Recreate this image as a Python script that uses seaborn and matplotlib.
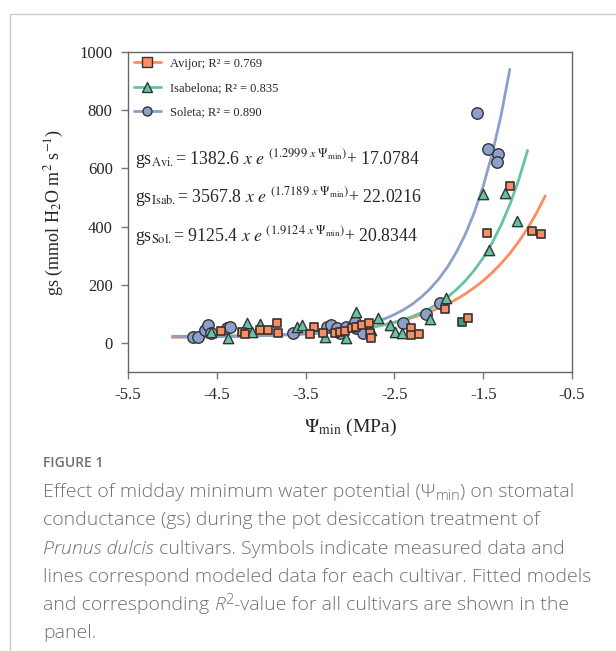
import numpy as np
import seaborn as sns
import matplotlib.pyplot as plt
from matplotlib.lines import Line2D
from matplotlib.patches import Rectangle

# measured points (Psi_min in MPa, gs in mmol m-2 s-1)
avijor_x = [-4.45, -4.22, -4.18, -4.01, -3.92, -3.82, -3.81, -3.41, -3.45, -3.30,
            -3.17, -3.11, -3.06, -2.98, -2.93, -2.87, -2.79, -2.78, -2.76, -2.31,
            -2.31, -2.22, -1.93, -1.67, -1.46, -1.20, -0.95, -0.85]
avijor_y = [42, 39, 30, 45, 45, 68, 35, 56, 31, 33,
            33, 39, 42, 50, 56, 62, 70, 33, 16, 50,
            27, 30, 116, 85, 378, 541, 385, 373]

isab_x = [-4.56, -4.37, -4.16, -4.01, -4.10, -3.60, -3.54, -3.28, -3.04, -2.93,
          -2.68, -2.76, -2.55, -2.49, -2.42, -2.10, -1.92, -1.44, -1.50, -1.26, -1.12]
isab_y = [39, 16, 68, 66, 39, 56, 62, 22, 16, 107,
          85, 45, 62, 39, 33, 82, 154, 321, 513, 516, 420]

# one green square in the original figure
odd_x = [-1.74]
odd_y = [71]

sol_x = [-4.77, -4.71, -4.63, -4.60, -4.56, -4.39, -4.35, -3.64, -3.26, -3.21,
         -3.15, -3.11, -3.04, -2.94, -2.93, -2.85, -2.40, -2.14, -1.99, -1.57,
         -1.45, -1.33, -1.34]
sol_y = [22, 22, 45, 62, 33, 50, 56, 33, 56, 62,
         50, 33, 56, 73, 50, 33, 68, 98, 136, 790,
         665, 651, 623]

# fitted models shown in the panel: gs = a * exp(b * Psi) + c
fit_a = [1382.6, 3567.8, 9125.4]
fit_b = [1.2999, 1.7189, 1.9124]
fit_c = [17.0784, 22.0216, 20.8344]
fit_end = [-0.8, -1.0, -1.2]
r2 = [0.769, 0.835, 0.890]
names = ["Avijor", "Isabelona", "Soleta"]

sns.set_style("white")
plt.rcParams['font.family'] = ['Liberation Serif', 'DejaVu Serif']
plt.rcParams['mathtext.fontset'] = 'stix'

pal = sns.color_palette("Set2", 3)
cols = [pal[1], pal[0], pal[2]]  # orange, green, blue
markers = ["s", "^", "o"]
sizes = [38, 55, 68]
edge = "#333333"

fig = plt.figure(figsize=(6.16, 6.51), dpi=100)
ax = fig.add_axes([128 / 616, 1 - 372 / 651, 444 / 616, 320 / 651])

# fitted curves
for i in range(3):
    xs = np.arange(-5.0, fit_end[i] + 0.001, 0.1)
    ys = fit_a[i] * np.exp(fit_b[i] * xs) + fit_c[i]
    sns.lineplot(x=xs, y=ys, color=cols[i], lw=2, ax=ax, zorder=2)

# measured points
sns.scatterplot(x=sol_x, y=sol_y, marker="o", s=sizes[2], color=cols[2],
                edgecolor=edge, linewidth=1, ax=ax, zorder=3)
sns.scatterplot(x=isab_x, y=isab_y, marker="^", s=sizes[1], color=cols[1],
                edgecolor=edge, linewidth=1, ax=ax, zorder=4)
sns.scatterplot(x=odd_x, y=odd_y, marker="s", s=sizes[0], color="#4a9a80",
                edgecolor=edge, linewidth=1.2, ax=ax, zorder=4)
sns.scatterplot(x=avijor_x, y=avijor_y, marker="s", s=sizes[0], color=cols[0],
                edgecolor=edge, linewidth=1.2, ax=ax, zorder=5)

ax.set_xlim(-5.5, -0.5)
ax.set_ylim(-100, 1000)
ax.set_xticks([-5.5, -4.5, -3.5, -2.5, -1.5, -0.5])
ax.set_xticklabels(["-5.5", "-4.5", "-3.5", "-2.5", "-1.5", "-0.5"])
ax.set_yticks([0, 200, 400, 600, 800, 1000])
ax.tick_params(axis='both', labelsize=12, length=5, width=1, color="#777777",
               direction='out', left=True, bottom=True, pad=6)
for sp in ax.spines.values():
    sp.set_color("#666666")
    sp.set_linewidth(1)

ax.set_xlabel(r"$\Psi_{\rm min}$ (MPa)", fontsize=14, labelpad=10)
ax.set_ylabel(r"gs (mmol H$_2$O m$^2$ s$^{-1}$)", fontsize=13, labelpad=10)

handles = [Line2D([0], [0], color=cols[i], lw=2, marker=markers[i], markersize=6.5,
                  markerfacecolor=cols[i], markeredgecolor=edge)
           for i in range(3)]
labels = [f"{names[i]}; R² = {r2[i]:.3f}" for i in range(3)]
ax.legend(handles, labels, loc="upper left", frameon=False, fontsize=9,
          handlelength=2.2, labelspacing=1.0, borderaxespad=0.15, borderpad=0.3,
          handletextpad=0.7)

eq_sub = ["Avi.", "Isab.", "Sol."]
eq_y = [632, 502, 367]
for i in range(3):
    txt = (r"gs$_{\rm " + eq_sub[i] + r"}$= " + f"{fit_a[i]}" + r" $x$ $e$ "
           + r"$^{(" + f"{fit_b[i]:.4f}" + r"\ x\ \Psi_{\rm min})}$+ " + f"{fit_c[i]:.4f}")
    ax.text(-5.42, eq_y[i], txt, fontsize=12.8, va="center", ha="left")

# card border
fig.add_artist(Rectangle((10 / 616, -0.1), 1.2, 1.1 - 14 / 651, transform=fig.transFigure,
                         fill=False, edgecolor="#cccccc", lw=1))

# caption
cap_font = ['Open Sans', 'DejaVu Sans']
cap_col = "#707070"
fig.text(43 / 616, 1 - 463 / 651, "FIGURE 1", family=cap_font, fontsize=10,
         weight="semibold", color=cap_col, va="center")

renderer = fig.canvas.get_renderer()


def draw_runs(x_px, y_px, runs):
    x = x_px / 616
    for text, style in runs:
        dy = style.pop("dy", 0)
        t = fig.text(x, 1 - (y_px - dy) / 651, text, family=cap_font, color=cap_col,
                     va="center", ha="left", weight="light", **style)
        bb = t.get_window_extent(renderer)
        x += bb.width / 616


cs = 14
lines = [
    [("Effect of midday minimum water potential (Ψ", {"fontsize": cs}),
     ("min", {"fontsize": cs * 0.75, "dy": -4}),
     (") on stomatal", {"fontsize": cs})],
    [("conductance (gs) during the pot desiccation treatment of", {"fontsize": cs})],
    [("Prunus dulcis", {"fontsize": cs, "style": "italic"}),
     (" cultivars. Symbols indicate measured data and", {"fontsize": cs})],
    [("lines correspond modeled data for each cultivar. Fitted models", {"fontsize": cs})],
    [("and corresponding ", {"fontsize": cs}),
     ("R", {"fontsize": cs, "style": "italic"}),
     ("2", {"fontsize": cs * 0.75, "dy": 5}),
     ("-value for all cultivars are shown in the", {"fontsize": cs})],
    [("panel.", {"fontsize": cs})],
]
for k, runs in enumerate(lines):
    draw_runs(43, 492 + k * 28.3, runs)

fig.savefig("out.png", dpi=100)
